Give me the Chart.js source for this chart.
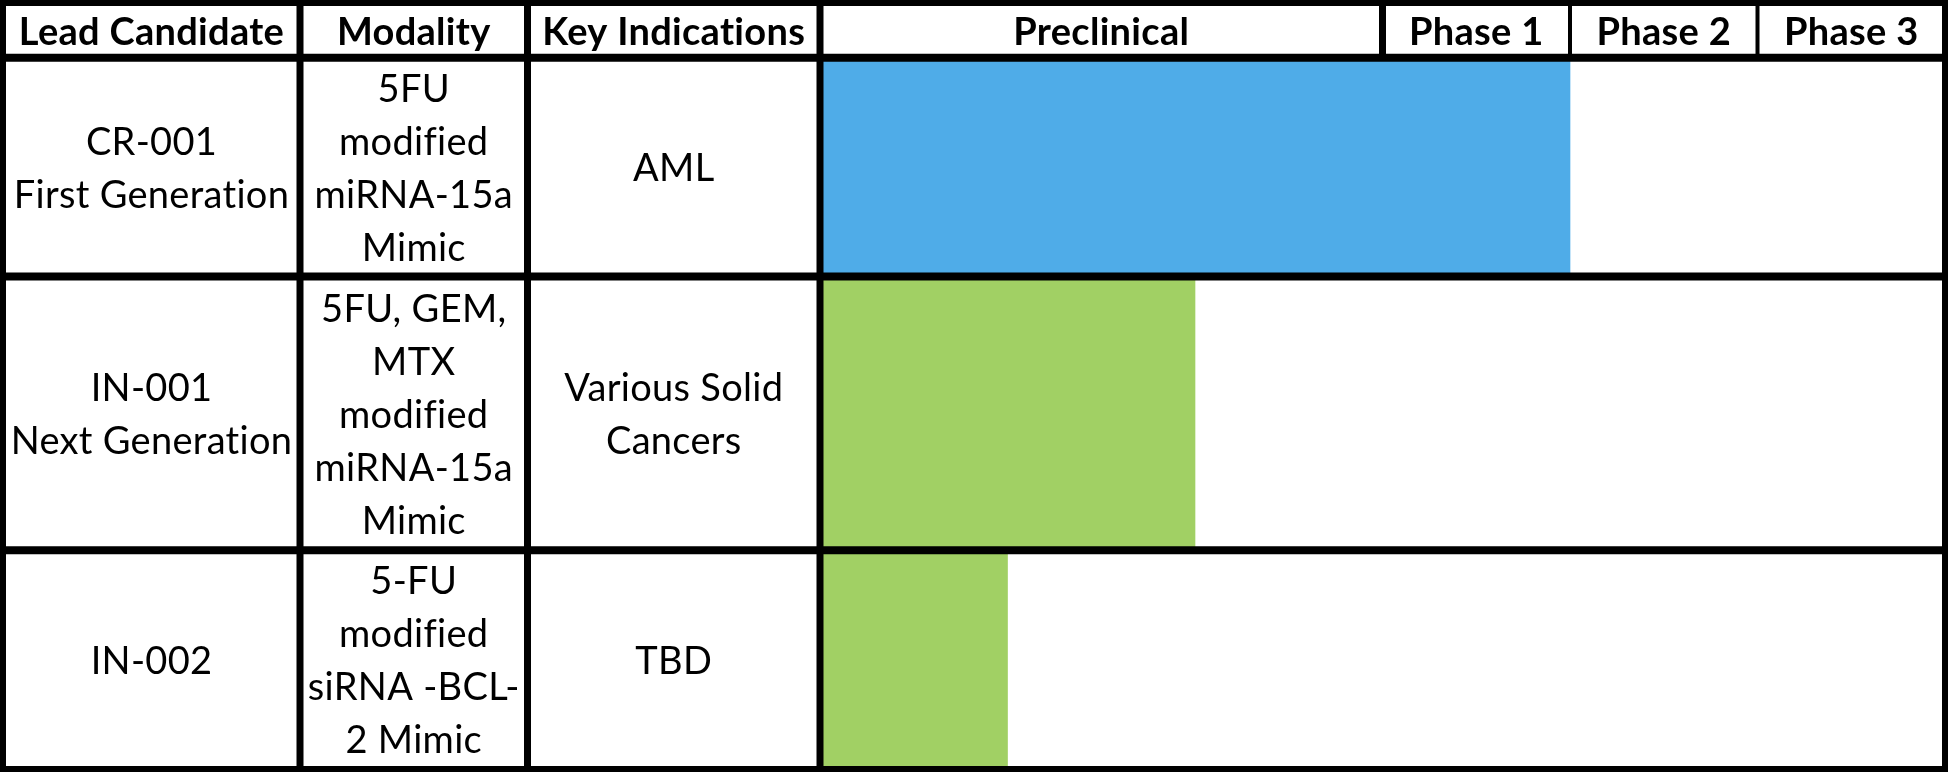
<!DOCTYPE html>
<html>
<head>
<meta charset="utf-8">
<script src="https://cdn.jsdelivr.net/npm/chart.js@4/dist/chart.umd.min.js"></script>
<style>
    html, body { margin: 0; padding: 0; background: #fff; overflow: hidden; }
    #wrap { width: 1948px; height: 772px; position: relative; }
</style>
</head>
<body>
<div id="wrap"><canvas id="pipelineChart"></canvas></div>
<script>
// ==================== PIPELINE DATA ====================
const tableHeaders = ['Lead Candidate', 'Modality', 'Key Indications'];
const stages = ['Preclinical', 'Phase 1', 'Phase 2', 'Phase 3'];
const stageUnits = [3, 1, 1, 1];            // preclinical counts as three steps

const candidates = [['CR-001', 'First Generation'], ['IN-001', 'Next Generation'], ['IN-002']];
const modalities = [
    ['5FU', 'modified', 'miRNA-15a', 'Mimic'],
    ['5FU, GEM,', 'MTX', 'modified', 'miRNA-15a', 'Mimic'],
    ['5-FU', 'modified', 'siRNA -BCL-', '2 Mimic']
];
const indications = [['AML'], ['Various Solid', 'Cancers'], ['TBD']];
const progress = [4, 2, 1];                 // steps reached on the stage axis
const rowLines = [4, 5, 4];                 // row height in text lines
const barColors = ['#4FACE8', '#A1D064', '#A1D064'];

// ==================== LAYOUT ====================
const EDGE = 3;
const labelColWidths = [297, 227.5, 292.5];
const LINE_H = 53;
const BODY_FONT = '38px Lato';
const HEAD_FONT = 'bold 38px Lato';

const rowStarts = rowLines.map((n, i) => rowLines.slice(0, i).reduce((a, b) => a + b, 0));
const totalLines = rowLines.reduce((a, b) => a + b, 0);
const totalUnits = stageUnits.reduce((a, b) => a + b, 0);

function drawLines(ctx, lines, cx, cy) {
    const top = cy - (lines.length - 1) * LINE_H / 2;
    lines.forEach((t, k) => ctx.fillText(t, cx, top + k * LINE_H));
}

const tableGrid = {
    id: 'tableGrid',
    afterDatasetsDraw(chart) {
        const { ctx, scales: { x, y } } = chart;
        const W = chart.width, H = chart.height;
        const colEdges = [EDGE];
        labelColWidths.forEach(w => colEdges.push(colEdges[colEdges.length - 1] + w));
        const headTop = y.getPixelForValue(-1), headBot = y.getPixelForValue(0);
        const headMid = (headTop + headBot) / 2;

        ctx.save();
        ctx.fillStyle = '#000';
        ctx.textAlign = 'center';
        ctx.textBaseline = 'middle';
        ctx.letterSpacing = '0.3px';   // also keeps Lato from joining "ti"

        // header texts
        ctx.font = HEAD_FONT;
        tableHeaders.forEach((h, i) => ctx.fillText(h, (colEdges[i] + colEdges[i + 1]) / 2, headMid + 2));
        let u = 0;
        stages.forEach((s, i) => {
            const l = x.getPixelForValue(u), r = x.getPixelForValue(u + stageUnits[i]);
            ctx.fillText(s, (l + r) / 2, headMid + 2);
            u += stageUnits[i];
        });

        // body texts
        ctx.font = BODY_FONT;
        rowLines.forEach((n, i) => {
            const cy = (y.getPixelForValue(rowStarts[i]) + y.getPixelForValue(rowStarts[i] + n)) / 2 + 2;
            [candidates[i], modalities[i], indications[i]].forEach((cell, c) => {
                drawLines(ctx, cell, (colEdges[c] + colEdges[c + 1]) / 2, cy);
            });
        });

        // grid lines
        ctx.strokeStyle = '#000';
        ctx.lineWidth = 8;
        [0, ...rowStarts.slice(1)].forEach(v => {
            const py = y.getPixelForValue(v);
            ctx.beginPath(); ctx.moveTo(0, py); ctx.lineTo(W, py); ctx.stroke();
        });
        ctx.lineWidth = 7;
        colEdges.slice(1).forEach(px => {
            ctx.beginPath(); ctx.moveTo(px, 0); ctx.lineTo(px, H); ctx.stroke();
        });
        u = 0;
        stageUnits.slice(0, -1).forEach((n, i) => {
            u += n;
            const px = x.getPixelForValue(u);
            ctx.lineWidth = i === 0 ? 7 : 4;
            ctx.beginPath(); ctx.moveTo(px, 0); ctx.lineTo(px, headBot); ctx.stroke();
        });
        ctx.lineWidth = 6;
        ctx.strokeRect(EDGE, EDGE, W - 2 * EDGE, H - 2 * EDGE);
        ctx.restore();
    }
};

const datasets = progress.map((v, i) => ({
    label: candidates[i][0],
    data: [{ x: v, y: rowStarts[i] + rowLines[i] / 2 }],
    backgroundColor: barColors[i],
    borderWidth: 0,
    stack: 'rows',
    barThickness: ctx => {
        const ys = ctx.chart.scales.y;
        if (!ys) return 10;
        return Math.abs(ys.getPixelForValue(rowLines[i]) - ys.getPixelForValue(0));
    }
}));

new Chart(document.getElementById('pipelineChart'), {
    type: 'bar',
    data: { datasets },
    options: {
        indexAxis: 'y',
        responsive: true,
        maintainAspectRatio: false,
        animation: false,
        layout: {
            padding: {
                left: EDGE + labelColWidths.reduce((a, b) => a + b, 0),
                right: EDGE, top: EDGE, bottom: EDGE
            }
        },
        plugins: {
            legend: { display: false },
            tooltip: { enabled: false },
            title: { display: false }
        },
        scales: {
            x: { type: 'linear', min: 0, max: totalUnits, display: false, stacked: false, offset: false },
            y: {
                type: 'linear', min: -1, max: totalLines, reverse: true, display: false,
                offset: false, grid: { offset: false }
            }
        }
    },
    plugins: [tableGrid]
});
</script>
</body>
</html>
